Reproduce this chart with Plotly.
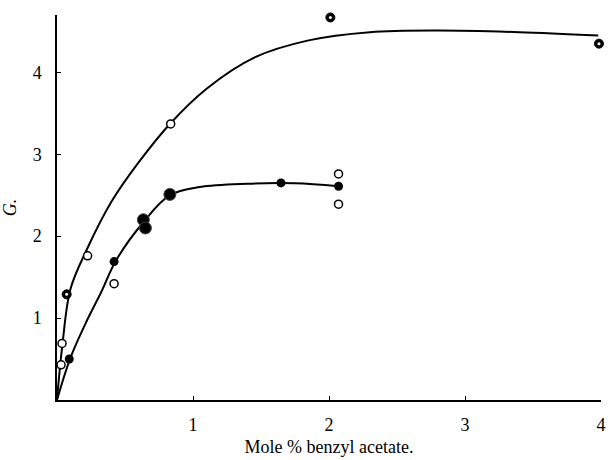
import plotly.graph_objects as go

# Upper series (points)
up_open_x = [0.037, 0.03, 0.225, 0.836]
up_open_y = [0.69, 0.43, 1.76, 3.37]
up_half_x = [0.071, 2.01, 3.985]
up_half_y = [1.29, 4.67, 4.35]
# Upper smooth curve
up_curve_x = [0, 0.04, 0.1, 0.22, 0.4, 0.6, 0.83, 1.1, 1.45, 1.85, 2.3, 2.8, 3.4, 3.98]
up_curve_y = [0, 0.68, 1.36, 1.84, 2.42, 2.9, 3.37, 3.8, 4.18, 4.39, 4.49, 4.51, 4.49, 4.45]

# Lower series (points)
lo_fill_x = [0.09, 0.42, 1.647, 2.07]
lo_fill_y = [0.50, 1.69, 2.65, 2.61]
lo_big_x = [0.635, 0.65, 0.83]
lo_big_y = [2.20, 2.10, 2.51]
lo_open_x = [0.42, 2.07, 2.07]
lo_open_y = [1.42, 2.76, 2.39]
# Lower smooth curve
lo_curve_x = [0, 0.1, 0.22, 0.32, 0.44, 0.635, 0.83, 1.05, 1.4, 1.75, 2.07]
lo_curve_y = [0, 0.52, 0.97, 1.3, 1.72, 2.17, 2.5, 2.6, 2.64, 2.645, 2.61]

x_ticks = [1, 2, 3, 4]
y_ticks = [1, 2, 3, 4]

fig = go.Figure()
line = dict(color="black", width=2, shape="spline", smoothing=1)
fig.add_trace(go.Scatter(x=up_curve_x, y=up_curve_y, mode="lines", line=line, cliponaxis=False))
fig.add_trace(go.Scatter(x=lo_curve_x, y=lo_curve_y, mode="lines", line=line, cliponaxis=False))

fig.add_trace(go.Scatter(x=up_open_x + lo_open_x, y=up_open_y + lo_open_y, mode="markers",
                         marker=dict(symbol="circle", size=8, color="white", line=dict(color="black", width=1.5)),
                         cliponaxis=False))
fig.add_trace(go.Scatter(x=up_half_x, y=up_half_y, mode="markers",
                         marker=dict(symbol="circle", size=9, color="black", line=dict(color="black", width=1)),
                         cliponaxis=False))
fig.add_trace(go.Scatter(x=up_half_x, y=up_half_y, mode="markers",
                         marker=dict(symbol="circle", size=3, color="white", line=dict(width=0)),
                         cliponaxis=False))
fig.add_trace(go.Scatter(x=lo_fill_x, y=lo_fill_y, mode="markers",
                         marker=dict(symbol="circle", size=9, color="black"), cliponaxis=False))
fig.add_trace(go.Scatter(x=lo_big_x, y=lo_big_y, mode="markers",
                         marker=dict(symbol="circle", size=12, color="black", line=dict(color="#444", width=1)),
                         cliponaxis=False))

font = dict(family="Liberation Serif, Times New Roman, serif", color="black")
fig.update_layout(
    width=614, height=460,
    margin=dict(l=57, r=13, t=15, b=60),
    plot_bgcolor="white", paper_bgcolor="white",
    showlegend=False,
    font=dict(size=18, **font),
)
fig.update_xaxes(range=[0, 4], tickvals=x_ticks, ticktext=[str(v) for v in x_ticks],
                 showline=True, linecolor="black", linewidth=1.5, ticks="inside", ticklen=4,
                 tickcolor="black", showgrid=False, zeroline=False, automargin=False,
                 ticklabelstandoff=8,
                 title=dict(text="Mole % benzyl acetate.", font=dict(size=18, **font), standoff=6))
fig.update_yaxes(range=[0, 4.7], tickvals=y_ticks, ticktext=[str(v) for v in y_ticks],
                 showline=True, linecolor="black", linewidth=1.5, ticks="inside", ticklen=4,
                 tickcolor="black", showgrid=False, zeroline=False, automargin=False,
                 ticklabelstandoff=10,
                 title=dict(text="<i>G.</i>", font=dict(size=18, **font), standoff=12))

fig.write_html("out.html", config={"displayModeBar": False},
               post_script="document.body.style.margin='0';document.body.style.padding='0';")
